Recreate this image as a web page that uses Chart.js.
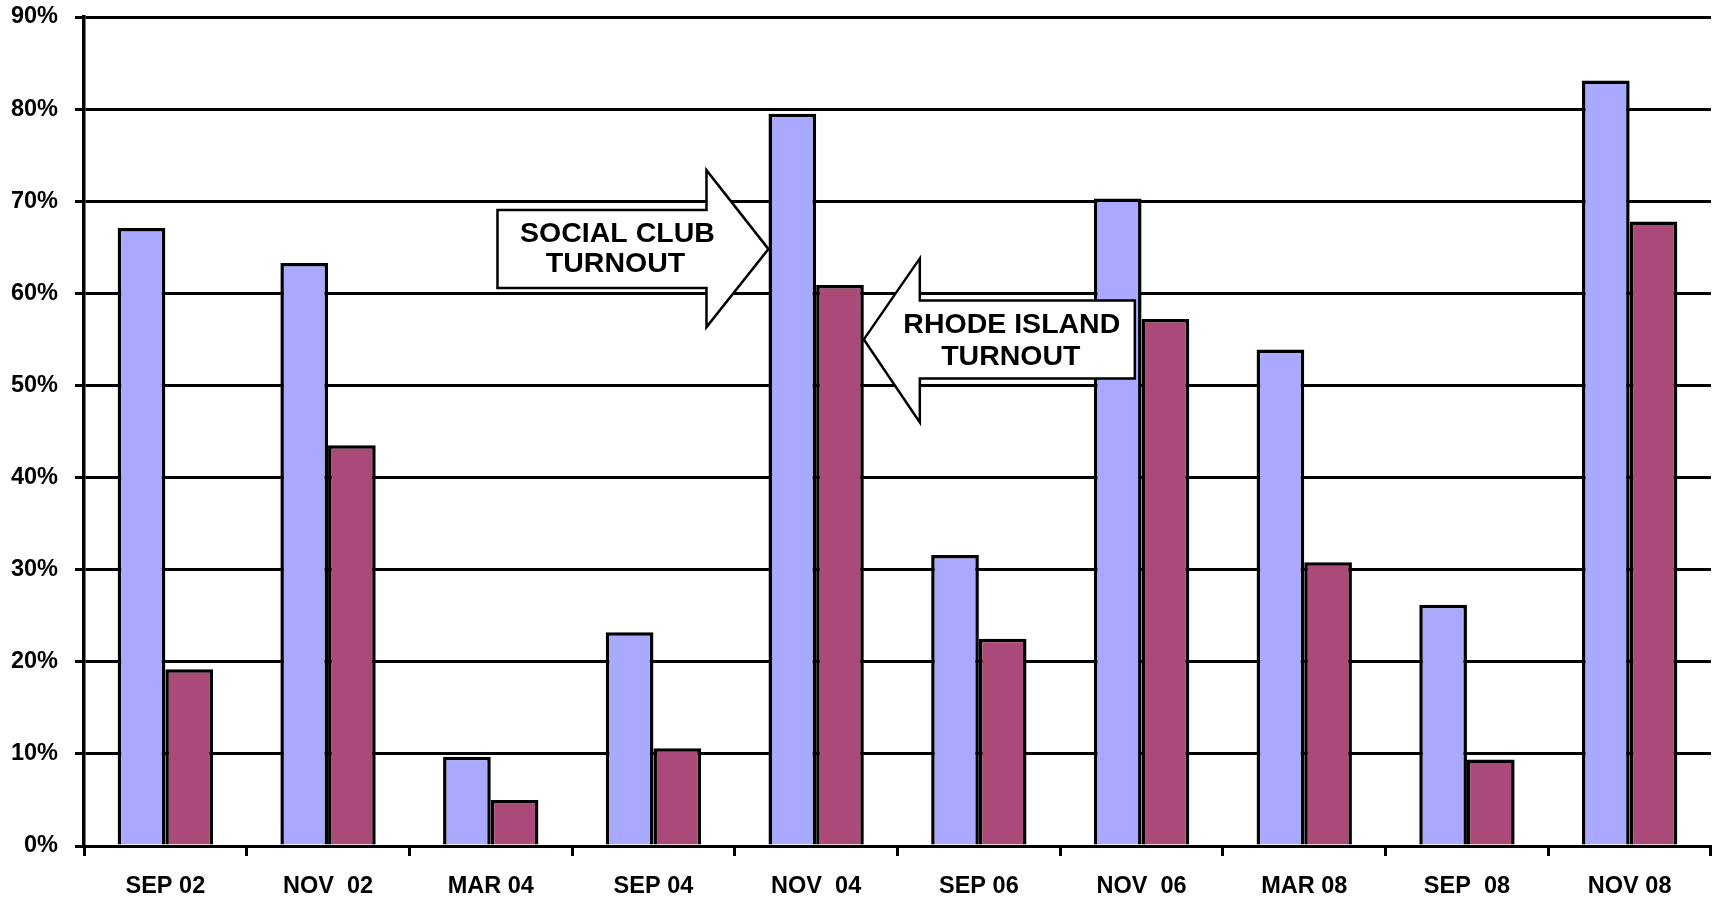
<!DOCTYPE html>
<html>
<head>
<meta charset="utf-8">
<script src="https://cdn.jsdelivr.net/npm/chart.js@4/dist/chart.umd.min.js"></script>
<style>
  html, body { margin: 0; padding: 0; background: #ffffff; }
  #wrap { width: 1722px; height: 898px; }
</style>
</head>
<body>
<div id="wrap"><canvas id="turnout" width="1722" height="898"></canvas></div>
<script>
// Election dates (some labels keep their double spacing)
const categories = ['SEP 02', 'NOV  02', 'MAR 04', 'SEP 04', 'NOV  04', 'SEP 06', 'NOV  06', 'MAR 08', 'SEP  08', 'NOV 08'];

// Turnout, percent
const socialClubTurnout = [67.1, 63.3, 9.7, 23.2, 79.5, 31.6, 70.3, 53.9, 26.2, 83.1];
const rhodeIslandTurnout = [19.2, 43.5, 5.0, 10.6, 60.9, 22.5, 57.2, 30.8, 9.4, 67.8];

// Y axis ticks, percent
const yTickValues = [0, 10, 20, 30, 40, 50, 60, 70, 80, 90];

// Callout arrows: text lines, the bar they point at, and the value level of the tip
const calloutLines = [['SOCIAL CLUB', 'TURNOUT'], ['RHODE ISLAND', 'TURNOUT']];
const calloutCategory = [4, 4];
const calloutLevel = [64.8, 55.0];

const FONT = '"Liberation Sans", Arial, Helvetica, sans-serif';

const calloutPlugin = {
  id: 'calloutArrows',
  afterDatasetsDraw(chart) {
    const ctx = chart.ctx;
    const y = chart.scales.y;
    ctx.save();
    ctx.lineWidth = 2.5;
    ctx.strokeStyle = '#000';
    ctx.lineJoin = 'miter';

    // Right-pointing arrow, tip on the left edge of the first series bar
    {
      const bar = chart.getDatasetMeta(0).data[calloutCategory[0]];
      const tx = bar.x - bar.width / 2;
      const ty = y.getPixelForValue(calloutLevel[0]);
      const L = tx - 271, hb = tx - 62;
      ctx.beginPath();
      ctx.moveTo(L, ty - 39);
      ctx.lineTo(hb, ty - 39);
      ctx.lineTo(hb, ty - 79);
      ctx.lineTo(tx, ty);
      ctx.lineTo(hb, ty + 78);
      ctx.lineTo(hb, ty + 39);
      ctx.lineTo(L, ty + 39);
      ctx.closePath();
      ctx.fillStyle = '#fff';
      ctx.fill();
      ctx.stroke();
      ctx.fillStyle = '#000';
      ctx.font = 'bold 28.5px ' + FONT;
      ctx.textAlign = 'center';
      ctx.textBaseline = 'alphabetic';
      ctx.fillText(calloutLines[0][0], tx - 151, ty - 7);
      ctx.fillText(calloutLines[0][1], tx - 153, ty + 23);
    }

    // Left-pointing arrow, tip on the right edge of the second series bar
    {
      const bar = chart.getDatasetMeta(1).data[calloutCategory[1]];
      const tx = bar.x + bar.width / 2;
      const ty = y.getPixelForValue(calloutLevel[1]);
      const R = tx + 271, hb = tx + 56;
      ctx.beginPath();
      ctx.moveTo(R, ty - 39);
      ctx.lineTo(hb, ty - 39);
      ctx.lineTo(hb, ty - 81);
      ctx.lineTo(tx, ty);
      ctx.lineTo(hb, ty + 83);
      ctx.lineTo(hb, ty + 39);
      ctx.lineTo(R, ty + 39);
      ctx.closePath();
      ctx.fillStyle = '#fff';
      ctx.fill();
      ctx.stroke();
      ctx.fillStyle = '#000';
      ctx.font = 'bold 28.5px ' + FONT;
      ctx.textAlign = 'center';
      ctx.textBaseline = 'alphabetic';
      ctx.fillText(calloutLines[1][0], tx + 148, ty - 6);
      ctx.fillText(calloutLines[1][1], tx + 147, ty + 26);
    }
    ctx.restore();
  }
};

new Chart(document.getElementById('turnout'), {
  type: 'bar',
  data: {
    labels: categories,
    datasets: [
      {
        label: 'Social Club Turnout',
        data: socialClubTurnout,
        backgroundColor: '#A9AAFF',
        borderColor: '#000',
        borderWidth: 3.5,
        borderSkipped: 'bottom'
      },
      {
        label: 'Rhode Island Turnout',
        data: rhodeIslandTurnout,
        backgroundColor: '#A94A78',
        borderColor: '#000',
        borderWidth: 3.5,
        borderSkipped: 'bottom'
      }
    ]
  },
  options: {
    responsive: false,
    devicePixelRatio: 1,
    animation: false,
    layout: { padding: { top: 17, right: 11, left: 0, bottom: 0 } },
    plugins: {
      legend: { display: false },
      tooltip: { enabled: false }
    },
    datasets: {
      bar: { categoryPercentage: 0.586, barPercentage: 1.0 }
    },
    scales: {
      x: {
        offset: true,
        grid: {
          offset: true,
          drawOnChartArea: false,
          drawTicks: true,
          tickLength: 10,
          tickWidth: 3,
          tickColor: '#000'
        },
        border: { display: true, color: '#000', width: 3 },
        ticks: {
          color: '#000',
          font: { family: FONT, size: 23.5, weight: 'bold' },
          padding: 16,
          maxRotation: 0,
          autoSkip: false
        },
        afterFit(scale) {
          scale.height = 52;
          scale.paddingLeft = 0;
          scale.paddingRight = 0;
        }
      },
      y: {
        min: 0,
        max: 90,
        afterBuildTicks(scale) { scale.ticks = yTickValues.map(v => ({ value: v })); },
        grid: {
          drawOnChartArea: true,
          color: '#000',
          lineWidth: 3,
          drawTicks: true,
          tickLength: 9,
          tickWidth: 3,
          tickColor: '#000'
        },
        border: { display: true, color: '#000', width: 3.5 },
        ticks: {
          color: '#000',
          font: { family: FONT, size: 23.5, weight: 'bold' },
          padding: 17,
          callback: v => v + '%'
        },
        afterFit(scale) {
          scale.width = 84;
          scale.paddingTop = 0;
          scale.paddingBottom = 0;
        }
      }
    }
  },
  plugins: [calloutPlugin]
});
</script>
</body>
</html>
